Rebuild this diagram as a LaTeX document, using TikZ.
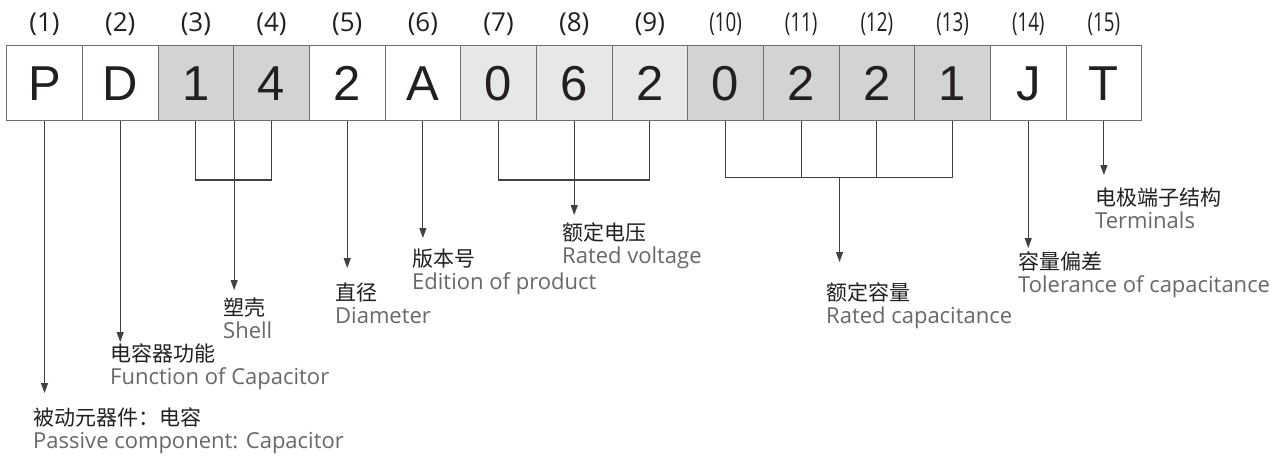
\documentclass[tikz,border=0pt]{standalone}
\usepackage{fontspec}
\usetikzlibrary{arrows.meta}
\setmainfont{Open Sans}
\newfontfamily\cjk{Noto Sans CJK SC}
\newfontfamily\digitfont{Liberation Sans}
\newfontfamily\labfont{Open Sans}
\definecolor{boxline}{HTML}{6D6E71}
\definecolor{cellA}{HTML}{D1D3D4}
\definecolor{cellB}{HTML}{E6E7E8}
\definecolor{engray}{HTML}{67686B}
\definecolor{ink}{HTML}{231F20}
\definecolor{connc}{HTML}{414042}
\tikzset{
  cell/.style={draw=boxline, line width=0.9pt, minimum width=75.67pt, minimum height=75.5pt,
    inner sep=0pt, text height=35pt, text depth=0pt, text=ink,
    font=\digitfont\fontsize{49}{49}\selectfont},
  num/.style={anchor=base, yshift=13pt, inner sep=0pt, text=ink,
    font=\labfont\fontsize{26}{26}\selectfont},
  cn/.style={anchor=base west, inner sep=0pt, text=ink,
    font=\cjk\fontsize{21}{21}\selectfont},
  en/.style={anchor=base west, inner sep=0pt, text=engray,
    font=\labfont\fontsize{22}{22}\selectfont},
  conn/.style={draw=connc, line width=1.1pt},
  arr/.style={conn, -{Triangle[length=10pt,width=7pt]}}
}
\begin{document}
\begin{tikzpicture}[x=1pt,y=-1pt]
\useasboundingbox[fill=white] (0,0) rectangle (1278,459);

% cells
\foreach \i/\t/\f in {1/P/white,2/D/white,3/1/cellA,4/4/cellA,5/2/white,6/A/white,
  7/0/cellB,8/6/cellB,9/2/cellB,10/0/cellA,11/2/cellA,12/2/cellA,13/1/cellA,14/J/white,15/T/white}
  \node[cell, fill=\f] (b\i) at ({6.7+75.67*(\i-0.5)}, 82.75) {\t};

% position labels
\foreach \i in {1,...,9}
  \node[num] (l\i) at (b\i.north) {(\i)};
\foreach \i in {10,...,15}
  \node[num] (l\i) at (b\i.north) {\scalebox{0.72}[1]{(\i)}};

% arrow end points
\coordinate (a1) at (b1.south |- 0,393);
\coordinate (a2) at (b2.south |- 0,342);
\coordinate (a34) at (b3.south east |- 0,290);
\coordinate (a5) at (b5.south |- 0,268);
\coordinate (a6) at (b6.south |- 0,238);
\coordinate (a789) at (b8.south |- 0,215);
\coordinate (k34) at (b3.south |- 0,180);
\coordinate (k789) at (b7.south |- 0,180);
\coordinate (k1013) at (b11.south east |- 0,177.3);
\coordinate (a1013) at (b11.south east |- 0,262);
\coordinate (a14) at (b14.south |- 0,248);
\coordinate (a15) at (b15.south |- 0,175);

% connectors
\draw[arr] (b1.south) -- (a1);
\draw[arr] (b2.south) -- (a2);
\draw[conn] (b3.south) -- (k34) -- (b4.south |- k34) -- (b4.south);
\draw[arr] (b3.south east) -- (a34);
\draw[arr] (b5.south) -- (a5);
\draw[arr] (b6.south) -- (a6);
\draw[conn] (b7.south) -- (k789) -- (b9.south |- k789) -- (b9.south);
\draw[arr] (b8.south) -- (a789);
\draw[conn] (b10.south) -- (b10.south |- k1013) -- (b13.south |- k1013) -- (b13.south);
\draw[conn] (b11.south) -- (b11.south |- k1013);
\draw[conn] (b12.south) -- (b12.south |- k1013);
\draw[arr] (k1013) -- (a1013);
\draw[arr] (b14.south) -- (a14);
\draw[arr] (b15.south) -- (a15);

% descriptions
\node[cn] (t1) at (33,425) {被动元器件：电容};
\node[en] (e1) at ([yshift=-23.5pt]t1.base west) {Passive component: Capacitor};
\node[cn] (t2) at (110,361) {电容器功能};
\node[en] (e2) at ([yshift=-23.5pt]t2.base west) {Function of Capacitor};
\node[cn] (t34) at (223,315) {塑壳};
\node[en] (e34) at ([yshift=-23.5pt]t34.base west) {Shell};
\node[cn] (t5) at (335,300) {直径};
\node[en] (e5) at ([yshift=-23.5pt]t5.base west) {Diameter};
\node[cn] (t6) at (412,266) {版本号};
\node[en] (e6) at ([yshift=-23.5pt]t6.base west) {Edition of product};
\node[cn] (t789) at (562,240) {额定电压};
\node[en] (e789) at ([yshift=-23.5pt]t789.base west) {Rated voltage};
\node[cn] (t1013) at (826,300) {额定容量};
\node[en] (e1013) at ([yshift=-23.5pt]t1013.base west) {Rated capacitance};
\node[cn] (t14) at (1018,269) {容量偏差};
\node[en] (e14) at ([yshift=-23.5pt]t14.base west) {Tolerance of capacitance};
\node[cn] (t15) at (1095,205) {电极端子结构};
\node[en] (e15) at ([yshift=-23.5pt]t15.base west) {Terminals};
\end{tikzpicture}
\end{document}
